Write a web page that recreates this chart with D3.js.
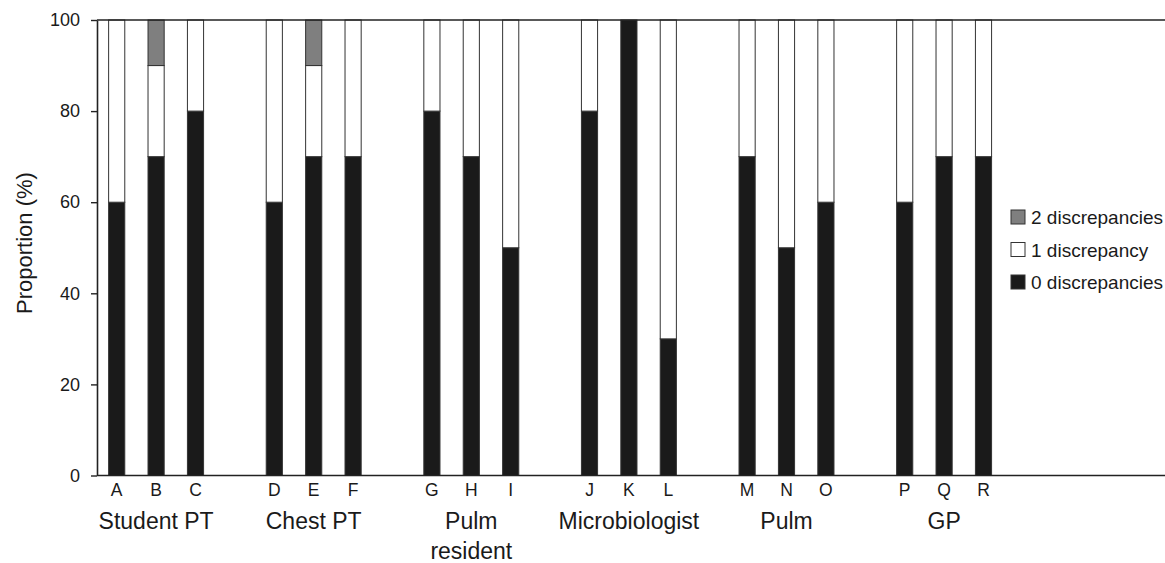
<!DOCTYPE html>
<html>
<head>
<meta charset="utf-8">
<style>
  body { margin: 0; background: #fff; }
  svg { font-family: 'Liberation Sans', Arial, sans-serif; fill: #1a1a1a; }
  .bars rect { stroke: #333; stroke-width: 1; }
  .domain { stroke: #222; stroke-width: 1.6; }
  .tick line { stroke: #222; stroke-width: 1.4; }
  .tick text { font-size: 18px; fill: #1a1a1a; }
</style>
</head>
<body>
<div id="chart"></div>
<script src="https://d3js.org/d3.v7.min.js"></script>
<script>
var raters = ['A', 'B', 'C', 'D', 'E', 'F', 'G', 'H', 'I', 'J', 'K', 'L', 'M', 'N', 'O', 'P', 'Q', 'R'];
var groups = [['Student PT'], ['Chest PT'], ['Pulm', 'resident'], ['Microbiologist'], ['Pulm'], ['GP']];
// proportion (%) of cases with 0, 1 and 2 discrepancies
var zero = [60, 70, 80, 60, 70, 70, 80, 70, 50, 80, 100, 30, 70, 50, 60, 60, 70, 70];
var one  = [40, 20, 20, 40, 20, 30, 20, 30, 50, 20, 0, 70, 30, 50, 40, 40, 30, 30];
var two  = [0, 10, 0, 0, 10, 0, 0, 0, 0, 0, 0, 0, 0, 0, 0, 0, 0, 0];
var yTicks = [0, 20, 40, 60, 80, 100];
var legendNames = ['2 discrepancies', '1 discrepancy', '0 discrepancies'];
var colors = ['#7f7f7f', '#ffffff', '#1a1a1a'];

var width = 1165;
var height = 563;
var plotLeft = 97, plotRight = 1165, plotTop = 20, plotBottom = 475.5;

var svg = d3.select('#chart').append('svg')
    .attr('width', width)
    .attr('height', height);

// one empty slot after each group of three, 27 slots overall
var slot = function (i) { return i + Math.floor(i / 3); };

var x = d3.scaleBand()
    .domain(d3.range(27))
    .range([plotLeft, plotLeft + 39.4 * 27])
    .paddingInner(0.59)
    .paddingOuter(0.295);

var y = d3.scaleLinear()
    .domain([0, 100])
    .range([plotBottom, plotTop]);

var data = raters.map(function (r, i) {
  return { name: r, i: i, '0': zero[i], '1': one[i], '2': two[i] };
});

var stack = d3.stack().keys(['0', '1', '2'])(data);
var fill = d3.scaleOrdinal().domain(['2', '1', '0']).range(colors);

svg.append('g')
    .attr('class', 'bars')
  .selectAll('g')
    .data(stack)
    .enter().append('g')
    .attr('fill', function (d) { return fill(d.key); })
  .selectAll('rect')
    .data(function (d) { return d.filter(function (p) { return p[1] > p[0]; }); })
    .enter().append('rect')
    .attr('x', function (d) { return x(slot(d.data.i)); })
    .attr('width', x.bandwidth())
    .attr('y', function (d) { return y(d[1]); })
    .attr('height', function (d) { return y(d[0]) - y(d[1]); });

// frame: top line at 100 and baseline
svg.append('line')
    .attr('x1', plotLeft).attr('x2', plotRight)
    .attr('y1', y(100)).attr('y2', y(100))
    .attr('stroke', '#222').attr('stroke-width', 1.6);
svg.append('line')
    .attr('x1', plotLeft).attr('x2', plotRight)
    .attr('y1', y(0)).attr('y2', y(0))
    .attr('stroke', '#222').attr('stroke-width', 1.6);

svg.append('g')
    .attr('transform', 'translate(' + plotLeft + ',0)')
    .call(d3.axisLeft(y).tickValues(yTicks).tickSize(6).tickPadding(11).tickSizeOuter(0));

// rater letters
svg.append('g')
  .selectAll('text')
    .data(raters)
    .enter().append('text')
    .attr('x', function (d, i) { return x(slot(i)) + x.bandwidth() / 2; })
    .attr('y', 495.5)
    .attr('text-anchor', 'middle')
    .style('font-size', '17.5px')
    .text(function (d) { return d; });

// group labels under the middle rater
svg.append('g')
  .selectAll('text')
    .data(groups)
    .enter().append('text')
    .attr('text-anchor', 'middle')
    .style('font-size', '23px')
    .attr('transform', function (d, i) {
      return 'translate(' + (x(slot(i * 3 + 1)) + x.bandwidth() / 2) + ',529)';
    })
  .selectAll('tspan')
    .data(function (d) { return d; })
    .enter().append('tspan')
    .attr('x', 0)
    .attr('dy', function (d, j) { return j ? 30 : 0; })
    .text(function (d) { return d; });

svg.append('text')
    .attr('transform', 'translate(32,243) rotate(-90)')
    .attr('text-anchor', 'middle')
    .style('font-size', '22px')
    .text('Proportion (%)');

var legend = svg.append('g')
    .attr('transform', 'translate(1011,210)');

var item = legend.selectAll('g')
    .data(legendNames)
    .enter().append('g')
    .attr('transform', function (d, i) { return 'translate(0,' + i * 32.5 + ')'; });

item.append('rect')
    .attr('width', 14).attr('height', 14)
    .attr('fill', function (d, i) { return colors[i]; })
    .attr('stroke', '#333');

item.append('text')
    .attr('x', 20)
    .attr('y', 14)
    .style('font-size', '19px')
    .text(function (d) { return d; });
</script>
</body>
</html>
